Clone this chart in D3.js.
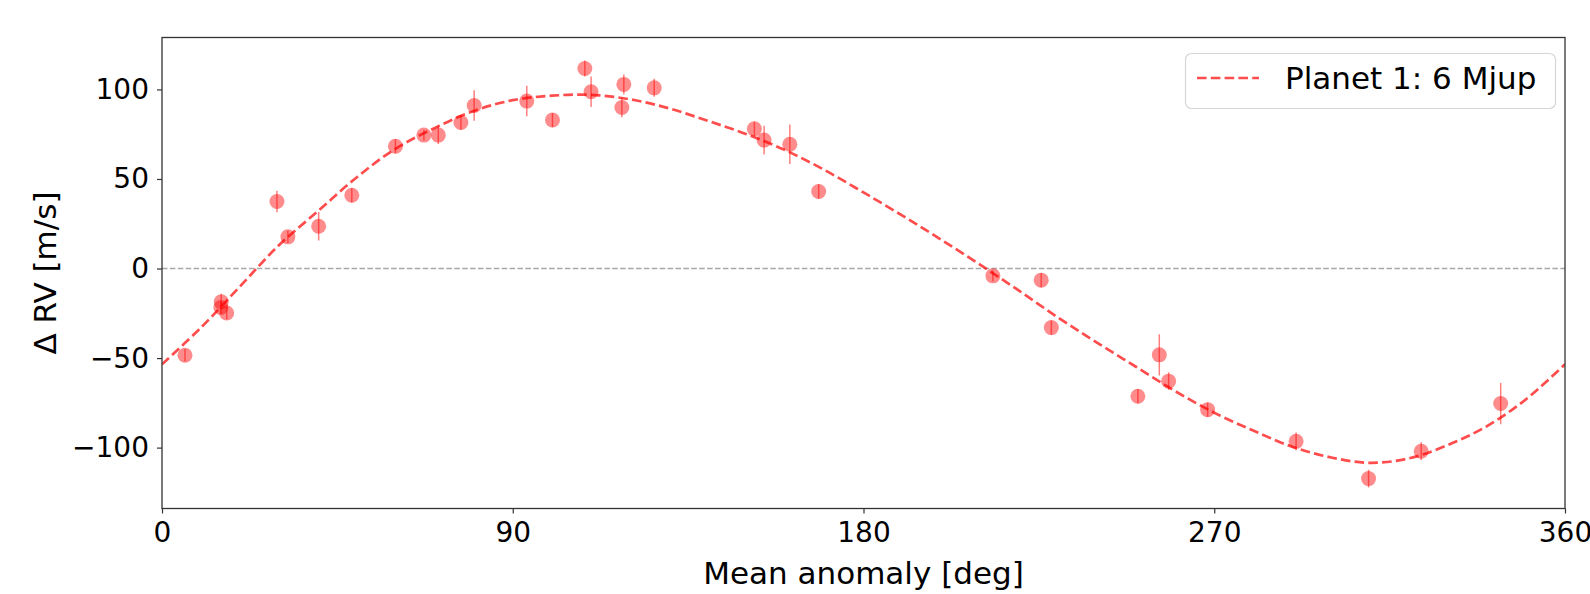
<!DOCTYPE html>
<html>
<head>
<meta charset="utf-8">
<script src="https://cdn.jsdelivr.net/npm/d3@7"></script>
<style>
  html, body { margin: 0; padding: 0; background: #fff; }
  svg { display: block; font-family: "DejaVu Sans", sans-serif; }
</style>
</head>
<body>
<svg id="chart" width="1590" height="594"></svg>
<script>
// Phase-folded radial velocities (mean anomaly in degrees, ΔRV in m/s, 1σ error)
const phase = [5.9, 15.2, 15.1, 16.6, 29.5, 32.3, 40.2, 48.7, 59.9, 67.2, 70.9, 76.7, 80.1, 93.6, 100.2,
               108.5, 110.1, 118.5, 118.0, 126.3, 152.0, 154.5, 161.1, 168.5,
               213.2, 225.6, 228.2, 250.4, 255.9, 258.3, 268.3, 291.0, 309.6, 323.1, 343.5];
const rv    = [-48.4, -18.6, -21.8, -24.8, 37.4, 17.7, 23.6, 40.9, 68.3, 74.5, 74.5, 81.5, 91.0, 93.5, 82.9,
               111.7, 98.7, 102.8, 89.9, 100.9, 78.0, 71.7, 69.4, 43.0,
               -4.1, -6.5, -33.0, -71.3, -48.2, -62.9, -78.8, -96.5, -117.3, -102.0, -75.4];
const rvErr = [3.5, 4.5, 3.5, 3.5, 6.0, 3.5, 8.0, 4.0, 4.0, 3.0, 5.0, 4.0, 8.5, 8.5, 4.0,
               4.5, 8.5, 5.5, 5.5, 5.0, 4.0, 8.0, 11.0, 4.0,
               3.0, 4.0, 4.0, 4.0, 11.5, 5.0, 4.0, 5.0, 5.0, 5.0, 11.5];

// Keplerian model for planet 1, sampled along the orbit
const modelPhase = [0, 10, 20, 30, 40, 50, 60, 70, 80, 90, 100, 110, 120, 130, 140, 150, 160, 170, 180,
                    190, 200, 210, 220, 230, 240, 250, 260, 270, 280, 290, 300, 310, 320, 330, 340, 350, 360];
const modelRv    = [-53.5, -33, -10, 13, 32, 51, 67, 78.5, 88, 94, 96.5, 97, 94.5, 89.5, 82.5, 75, 66, 55, 42.5,
                    29.5, 16, 2, -12.5, -27.5, -41.5, -55, -68.5, -80.5, -90.5, -99.5, -105.5, -108.5, -106, -98.5, -88, -73, -53.5];

const xTicks = [0, 90, 180, 270, 360];
const yTicks = [-100, -50, 0, 50, 100];
const legendLabel = "Planet 1: 6 Mjup";

const plot = { left: 162, right: 1565, top: 37.5, bottom: 508.5 };

const svg = d3.select("#chart");

const x = d3.scaleLinear().domain([0, 360]).range([plot.left, plot.right]);
const y = d3.scaleLinear().domain([-134, 129]).range([plot.bottom, plot.top]);

svg.append("defs").append("clipPath").attr("id", "plot-clip")
  .append("rect")
  .attr("x", plot.left).attr("y", plot.top)
  .attr("width", plot.right - plot.left).attr("height", plot.bottom - plot.top);

const body = svg.append("g").attr("clip-path", "url(#plot-clip)");

// zero reference line
body.append("line")
  .attr("x1", x(0)).attr("x2", x(360))
  .attr("y1", y(0)).attr("y2", y(0))
  .attr("stroke", "#999").attr("stroke-opacity", 0.85)
  .attr("stroke-width", 1.5)
  .attr("stroke-dasharray", "5.5,2.4");

// error bars
const obs = phase.map((p, i) => ({ p, v: rv[i], e: rvErr[i] }));
body.append("g").selectAll("line").data(obs).join("line")
  .attr("x1", d => x(d.p)).attr("x2", d => x(d.p))
  .attr("y1", d => y(d.v - d.e)).attr("y2", d => y(d.v + d.e))
  .attr("stroke", "red").attr("stroke-opacity", 0.5)
  .attr("stroke-width", 1.5);

// observations
body.append("g").selectAll("circle").data(obs).join("circle")
  .attr("cx", d => x(d.p)).attr("cy", d => y(d.v))
  .attr("r", 7.5)
  .attr("fill", "red").attr("fill-opacity", 0.45);

// model curve
const line = d3.line()
  .x((d, i) => x(modelPhase[i]))
  .y(d => y(d))
  .curve(d3.curveCatmullRom.alpha(0.5));

body.append("path")
  .datum(modelRv)
  .attr("d", line)
  .attr("fill", "none")
  .attr("stroke", "red").attr("stroke-opacity", 0.7)
  .attr("stroke-width", 2.7)
  .attr("stroke-dasharray", "9.6,4.2");

// axes
const fmt = d3.format("d");
const xAxis = svg.append("g")
  .attr("transform", `translate(0,${plot.bottom})`)
  .call(d3.axisBottom(x).tickValues(xTicks).tickFormat(fmt).tickSize(5).tickPadding(8.5));
const yAxis = svg.append("g")
  .attr("transform", `translate(${plot.left},0)`)
  .call(d3.axisLeft(y).tickValues(yTicks).tickFormat(fmt).tickSize(5).tickPadding(8));

[xAxis, yAxis].forEach(a => {
  a.select(".domain").remove();
  a.selectAll(".tick line").attr("stroke", "#333").attr("stroke-width", 1.2);
  a.selectAll(".tick text")
    .attr("fill", "#000")
    .style("font-family", "'DejaVu Sans', sans-serif")
    .style("font-size", "28px");
});

// frame
svg.append("rect")
  .attr("x", plot.left).attr("y", plot.top)
  .attr("width", plot.right - plot.left).attr("height", plot.bottom - plot.top)
  .attr("fill", "none").attr("stroke", "#333").attr("stroke-width", 1.3);

// axis titles
svg.append("text")
  .attr("x", (plot.left + plot.right) / 2).attr("y", 583.5)
  .attr("text-anchor", "middle")
  .style("font-size", "31px")
  .text("Mean anomaly [deg]");

svg.append("text")
  .attr("transform", `translate(55.5,${(plot.top + plot.bottom) / 2}) rotate(-90)`)
  .attr("text-anchor", "middle")
  .style("font-size", "31px")
  .text("Δ RV [m/s]");

// legend
const lg = svg.append("g");
lg.append("rect")
  .attr("x", 1185.5).attr("y", 53.5)
  .attr("width", 370).attr("height", 55)
  .attr("rx", 6).attr("ry", 6)
  .attr("fill", "#fff").attr("fill-opacity", 0.8)
  .attr("stroke", "#d6d6d6").attr("stroke-width", 1.2);
lg.append("line")
  .attr("x1", 1197).attr("x2", 1259)
  .attr("y1", 78).attr("y2", 78)
  .attr("stroke", "red").attr("stroke-opacity", 0.7)
  .attr("stroke-width", 2.7)
  .attr("stroke-dasharray", "9.6,4.2");
lg.append("text")
  .attr("x", 1285).attr("y", 89.3)
  .style("font-size", "31px")
  .text(legendLabel);
</script>
</body>
</html>
